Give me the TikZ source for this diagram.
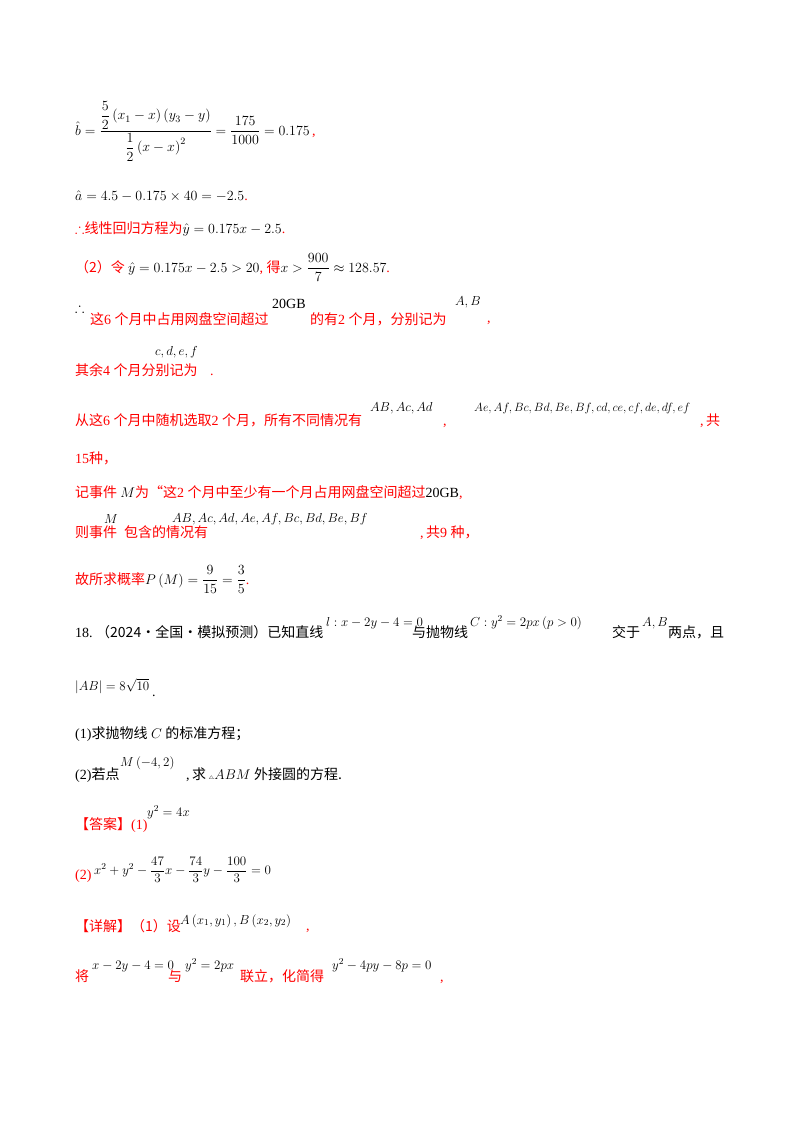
\documentclass[tikz,border=0pt]{standalone}
\usepackage{fix-cm}
\usepackage{amsmath,amssymb}
\usepackage{fontspec}
\setmainfont{Liberation Serif}
\newfontfamily\cjk{Noto Sans CJK SC}
\definecolor{rd}{RGB}{255,0,0}
\begin{document}
\begin{tikzpicture}[x=1pt,y=-1pt,
  t/.style={anchor=base west,inner sep=0pt,font=\fontsize{14}{16}\selectfont\mathversion{normal}},
  r/.style={t,text=rd},
  tm/.style={anchor=base west,inner sep=0pt,font=\fontsize{13}{15}\selectfont\mathversion{normal}},
  m/.style={anchor=base west,inner sep=0pt,font=\fontsize{14}{17}\selectfont\mathversion{normal}}]
\useasboundingbox (0,0) rectangle (800,1132);
\node[m] (b) at (75,135) {$\hat b=\dfrac{\dfrac52\left(x_1-x\right)\left(y_3-y\right)}{\dfrac12\left(x-x\right)^2}=\dfrac{175}{1000}=0.175$\textcolor{rd}{\,,}};
\node[m] (a) at (75,200) {$\hat a=4.5-0.175\times40=-2.5$\textcolor{rd}{.}};
\node[r] (l3) at (75,233) {$\therefore$\cjk 线性回归方程为\rm\color{black}$\hat y=0.175x-2.5$\color{rd}.};
\node[r] (l4) at (75,272) {\cjk（2）令 \rm\color{black}$\hat y=0.175x-2.5>20$\color{rd}, \cjk 得\rm\color{black}$x>\dfrac{900}{7}\approx128.57$\color{rd}.};
\node[t] (l5a) at (75,312) {$\therefore$};
\node[r] (l5) at (90,324) {\cjk 这\rm 6 \cjk 个月中占用网盘空间超过};
\node[t] (gb) at (272,308) {20GB};
\node[r] (l5b) at (310,324) {\cjk 的有\rm 2 \cjk 个月，分别记为};
\node[tm] (ab) at (455,305) {$A,B$};
\node[r] (l5c) at (487,322) {,};
\node[r] (l6) at (75,375) {\cjk 其余\rm 4 \cjk 个月分别记为};
\node[tm] (cdef) at (155,355) {$c,d,e,f$};
\node[r] (l6b) at (210,375) {.};
\node[r] (l7) at (75,425) {\cjk 从这\rm 6 \cjk 个月中随机选取\rm 2 \cjk 个月，所有不同情况有};
\node[tm] (l7a) at (370,411) {$AB,Ac,Ad$};
\node[r] (l7b) at (443,425) {,};
\node[tm,font=\fontsize{12}{14}\selectfont\mathversion{normal}] (l7c) at (474,411) {$Ae,Af,Bc,Bd,Be,Bf,cd,ce,cf,de,df,ef$};
\node[r] (l7d) at (700,425) {,\,\cjk 共};
\node[r] (l8) at (75,463) {15\cjk 种，};
\node[r] (l9) at (75,497) {\cjk 记事件 \rm\color{black}$M$\color{rd} \cjk 为“这\rm 2 \cjk 个月中至少有一个月占用网盘空间超过\rm\color{black}20GB\color{rd},};
\node[r] (l10) at (75,537) {\cjk 则事件};
\node[tm] (l10a) at (104,523) {$M$};
\node[r] (l10b) at (124,537) {\cjk 包含的情况有};
\node[tm] (l10c) at (172,522) {$AB,Ac,Ad,Ae,Af,Bc,Bd,Be,Bf$};
\node[r] (l10d) at (420,537) {,\,\cjk 共\rm 9 \cjk 种，};
\node[r] (l11) at (75,584) {\cjk 故所求概率\rm\color{black}$P\left(M\right)=\dfrac{9}{15}=\dfrac35$\color{rd}.};
\node[t] (q) at (75,637) {18.\ \cjk（2024·全国·模拟预测）已知直线};
\node[tm] (q1) at (326,626) {$l:x-2y-4=0$};
\node[t] (q2) at (412,637) {\cjk 与抛物线};
\node[tm] (q3) at (470,626) {$C:y^2=2px\left(p>0\right)$};
\node[t] (q4) at (612,637) {\cjk 交于};
\node[tm] (q5) at (642,626) {$A,B$};
\node[t] (q6) at (668,637) {\cjk 两点，且};
\node[tm] (q7) at (75,690) {$\left|AB\right|=8\sqrt{10}$};
\node[t] (q8) at (152,696) {.};
\node[t] (p1) at (75,738) {(1)\cjk 求抛物线\rm\ $C$\ \cjk 的标准方程；};
\node[t] (p2) at (75,779) {(2)\cjk 若点};
\node[tm] (p2a) at (120,766) {$M\left(-4,2\right)$};
\node[t] (p2b) at (186,779) {,\,\cjk 求\rm\,{\tiny$\triangle$}$ABM$\ \cjk 外接圆的方程.};
\node[r] (an) at (75,829) {\cjk【答案】\rm (1)};
\node[tm] (an1) at (147,816) {$y^2=4x$};
\node[r] (an2) at (75,879) {(2)};
\node[tm] (an3) at (94,874) {$x^2+y^2-\dfrac{47}{3}x-\dfrac{74}{3}y-\dfrac{100}{3}=0$};
\node[r] (d1) at (75,931) {\cjk【详解】（1）设};
\node[tm] (d2) at (180,924) {$A\left(x_1,y_1\right),B\left(x_2,y_2\right)$};
\node[r] (d3) at (306,930) {,};
\node[r] (e1) at (75,981) {\cjk 将};
\node[tm] (e2) at (92,969) {$x-2y-4=0$};
\node[r] (e3) at (168,981) {\cjk 与};
\node[tm] (e4) at (185,969) {$y^2=2px$};
\node[r] (e5) at (240,981) {\cjk 联立，化简得};
\node[tm] (e6) at (332,969) {$y^2-4py-8p=0$};
\node[r] (e7) at (440,981) {,};
\end{tikzpicture}
\end{document}
